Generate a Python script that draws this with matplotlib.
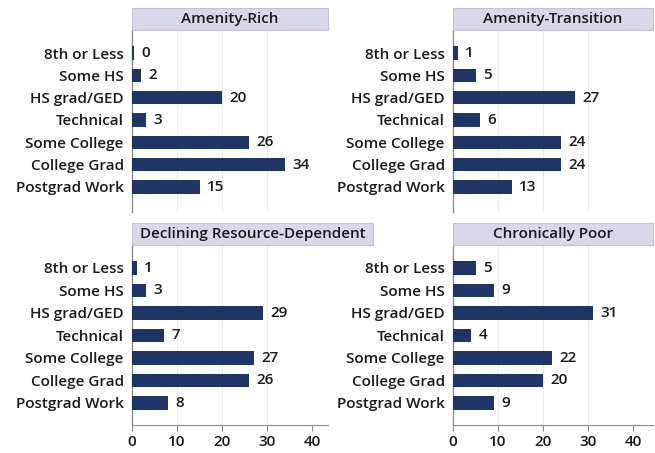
import matplotlib
matplotlib.use("Agg")
import matplotlib.pyplot as plt
from matplotlib.patches import Rectangle

categories = ["8th or Less", "Some HS", "HS grad/GED", "Technical",
              "Some College", "College Grad", "Postgrad Work"]
titles = ["Amenity-Rich", "Amenity-Transition",
          "Declining Resource-Dependent", "Chronically Poor"]
amenity_rich = [0.4, 2, 20, 3, 26, 34, 15]
amenity_transition = [1, 5, 27, 6, 24, 24, 13]
declining = [1, 3, 29, 7, 27, 26, 8]
chronically_poor = [5, 9, 31, 4, 22, 20, 9]
labels_rich = [0, 2, 20, 3, 26, 34, 15]
xticks = [0, 10, 20, 30, 40]

plt.rcParams['font.family'] = ['Open Sans', 'DejaVu Sans']

W, H = 655, 453
fig = plt.figure(figsize=(W/100, H/100), dpi=100)

bar_color = "#1e3566"
text_color = "#1a1a1a"
FS = 11
FW = 'semibold'

# (title, values, labels, axes box px, title box right edge px, ylim, bottom axis)
panels = [
    (titles[0], amenity_rich, labels_rich, (132, 30, 328, 212), 328, (7.12, -1.03), False),
    (titles[1], amenity_transition, amenity_transition, (453, 30, 653, 212), 653, (7.12, -1.03), False),
    (titles[2], declining, declining, (132, 245, 328, 425), 373, (6.98, -1.02), True),
    (titles[3], chronically_poor, chronically_poor, (453, 245, 653, 425), 653, (6.98, -1.02), True),
]

for title, vals, labs, (x0, y0, x1, y1), tbr, ylim, bottom in panels:
    ax = fig.add_axes([x0/W, 1-y1/H, (x1-x0)/W, (y1-y0)/H])
    ypos = list(range(len(categories)))
    ax.barh(ypos, vals, height=0.6, color=bar_color, zorder=3)
    ax.set_xlim(0, (x1-x0)/4.5)
    ax.set_ylim(*ylim)
    ax.set_yticks(ypos)
    ax.set_yticklabels(categories, fontsize=FS, color=text_color, fontweight=FW)
    ax.tick_params(axis='y', length=0, pad=6)
    for y, v, l in zip(ypos, vals, labs):
        ax.text(v + 1.7, y, str(l), va='center', ha='left', fontsize=FS,
                color=text_color, fontweight=FW)
    for g in [10, 20, 30]:
        ax.axvline(g, color="#e6edf3", lw=0.8, zorder=1)
    for s in ['top', 'right']:
        ax.spines[s].set_visible(False)
    ax.spines['left'].set_color("#8c8c8c")
    ax.spines['left'].set_linewidth(1.0)
    if bottom:
        ax.spines['bottom'].set_color("#8c8c8c")
        ax.set_xticks(xticks)
        ax.set_xticklabels([str(t) for t in xticks], fontsize=FS, color=text_color,
                           fontweight=FW)
        ax.tick_params(axis='x', length=4, color="#8c8c8c", pad=3)
    else:
        ax.spines['bottom'].set_visible(False)
        ax.set_xticks([])
    # title box
    hbox = 22 / (y1 - y0)
    wbox = (tbr - x0) / (x1 - x0)
    ax.add_patch(Rectangle((0, 1), wbox, hbox, transform=ax.transAxes,
                           facecolor="#d9d8e9", edgecolor="#c4c3d6", lw=0.8,
                           clip_on=False, zorder=4))
    ax.text(wbox/2, 1 + hbox/2, title, transform=ax.transAxes, ha='center',
            va='center', fontsize=FS, color=text_color, fontweight=FW, zorder=5)

fig.savefig("out.png", dpi=100)
